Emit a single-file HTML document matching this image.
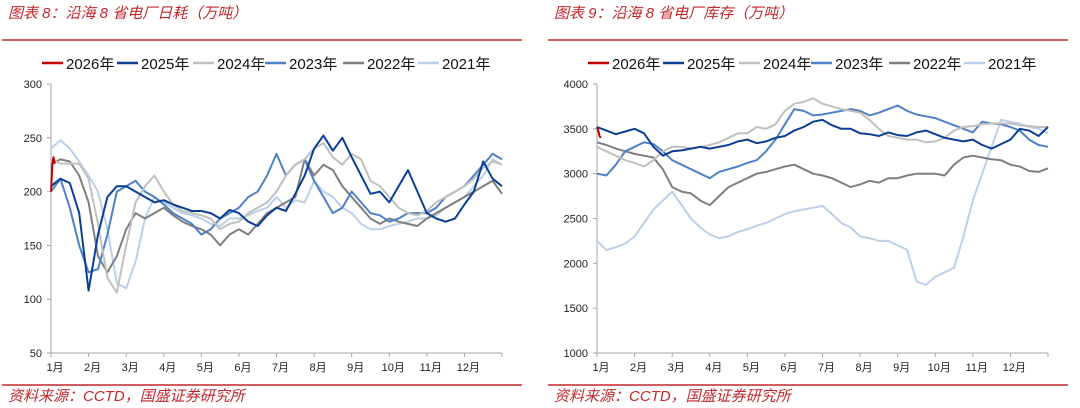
<!DOCTYPE html>
<html><head><meta charset="utf-8">
<style>
body{margin:0;background:#fff;width:1080px;height:408px;overflow:hidden;font-family:"Liberation Sans","Noto Sans CJK SC",sans-serif;}
svg{display:block}
</style></head>
<body>
<svg id="c" width="1080" height="408" xmlns="http://www.w3.org/2000/svg"></svg>
<script>
const months=["1月","2月","3月","4月","5月","6月","7月","8月","9月","10月","11月","12月"];
const years=["2026年","2025年","2024年","2023年","2022年","2021年"];
const colors=["#c00000","#0b3f94","#c0c0c0","#4f81c7","#7f7f7f","#bcd0ea"];
const leftTicks=[50,100,150,200,250,300];
const rightTicks=[1000,1500,2000,2500,3000,3500,4000];
// daily consumption (万吨), quarter-month samples
const cons2026=[200,225,232,226];
const cons2025=[205,212,208,180,108,160,195,205,205,200,195,190,192,188,185,182,182,180,175,183,180,172,168,178,185,182,198,215,240,252,238,250,232,215,198,200,190,205,220,200,180,175,172,175,188,200,228,212,205];
const cons2024=[230,226,226,226,212,170,120,106,150,190,205,215,200,188,182,180,178,175,165,170,172,180,185,190,200,215,225,230,240,245,232,225,235,230,210,205,195,185,180,178,182,190,195,200,205,212,222,228,225];
const cons2023=[200,212,185,150,125,128,160,200,205,210,200,195,188,180,175,170,160,165,175,180,185,195,200,215,235,215,225,230,210,195,180,185,200,190,180,178,172,175,180,180,180,185,195,200,205,215,225,235,230];
const cons2022=[225,230,228,215,190,140,125,140,165,180,175,180,185,178,172,168,165,160,150,160,165,160,170,180,185,190,195,230,215,225,220,205,195,185,175,170,175,172,170,168,175,180,185,190,195,200,205,210,198];
const cons2021=[240,248,240,228,215,200,165,115,110,135,175,195,190,185,180,178,175,170,168,175,175,178,182,185,195,185,192,190,210,200,195,185,180,170,165,165,168,170,172,175,175,178,185,190,195,205,215,230,225];
// inventory (万吨)
const inv2026=[3520,3480,3420,3400];
const inv2025=[3520,3480,3440,3470,3500,3450,3300,3200,3250,3260,3280,3300,3280,3300,3320,3360,3380,3340,3360,3400,3420,3480,3520,3580,3600,3540,3500,3500,3450,3440,3420,3460,3430,3420,3460,3480,3440,3400,3380,3360,3380,3320,3280,3330,3380,3500,3480,3420,3520];
const inv2024=[3300,3250,3200,3150,3120,3080,3150,3250,3300,3300,3280,3300,3320,3350,3400,3450,3450,3520,3500,3550,3700,3780,3800,3840,3780,3750,3720,3700,3680,3600,3500,3420,3400,3380,3380,3350,3360,3400,3480,3520,3530,3550,3560,3560,3560,3540,3530,3520,3520];
const inv2023=[3000,2980,3100,3250,3300,3350,3330,3250,3150,3100,3050,3000,2950,3020,3050,3080,3120,3150,3250,3380,3550,3720,3700,3650,3660,3680,3700,3720,3700,3650,3680,3720,3760,3700,3660,3640,3620,3580,3540,3500,3460,3580,3560,3550,3520,3480,3380,3320,3300];
const inv2022=[3350,3320,3280,3250,3220,3200,3180,3050,2850,2800,2780,2700,2650,2750,2850,2900,2950,3000,3020,3050,3080,3100,3050,3000,2980,2950,2900,2850,2880,2920,2900,2950,2950,2980,3000,3000,3000,2980,3100,3180,3200,3180,3160,3150,3100,3080,3030,3020,3060];
const inv2021=[2250,2150,2180,2220,2300,2450,2600,2700,2800,2650,2500,2400,2320,2280,2300,2350,2380,2420,2450,2500,2550,2580,2600,2620,2640,2550,2450,2400,2300,2280,2250,2250,2200,2150,1800,1760,1850,1900,1950,2300,2700,3000,3300,3600,3580,3560,3520,3500,3450];

const NS="http://www.w3.org/2000/svg";
const svg=document.getElementById('c');
function mk(tag,attrs,parent){const e=document.createElementNS(NS,tag);for(const k in attrs)e.setAttribute(k,attrs[k]);(parent||svg).appendChild(e);return e;}

function panel(ox,title,ticks,ymin,ymax,series,steps,name){
  const g=mk('g',{});
  
  
  const t=mk('text',{x:ox+8,y:18,fill:'#c0282d','font-size':15,'font-style':'italic'},g);
  t.textContent=title;
  
  
  const l1=mk('line',{x1:ox+2,x2:ox+522,y1:40,y2:40,stroke:'#c0282d','stroke-width':1.5},g);
  
  
  const l2=mk('line',{x1:ox+2,x2:ox+522,y1:385,y2:385,stroke:'#c0282d','stroke-width':1.5},g);
  
  
  const s=mk('text',{x:ox+8,y:401,fill:'#c0282d','font-size':15,'font-style':'italic'},g);
  s.textContent='资料来源：CCTD，国盛证券研究所';
  
  
  const x0=ox+51,x1=ox+502,yTop=84,yBot=353;
  const X=m=>x0+(x1-x0)*m/12;
  const Y=v=>yBot-(yBot-yTop)*(v-ymin)/(ymax-ymin);
  const ax=mk('line',{x1:x0,x2:x0,y1:yTop,y2:yBot,stroke:'#a6a6a6'},g);
  
  
  const bx=mk('line',{x1:x0,x2:x1,y1:yBot,y2:yBot,stroke:'#a6a6a6'},g);
  
  
  ticks.forEach(v=>{
    mk('line',{x1:x0-4,x2:x0,y1:Y(v),y2:Y(v),stroke:'#a6a6a6'},g);
    const tl=mk('text',{x:x0-9,y:Y(v)+4,'text-anchor':'end','font-size':11,fill:'#222'},g);
    tl.textContent=v;
    
    
  });
  months.forEach((m,i)=>{
    mk('line',{x1:X(i),x2:X(i),y1:yBot,y2:yBot+4,stroke:'#a6a6a6'},g);
    const ml=mk('text',{x:X(i)+4,y:371,'text-anchor':'middle','font-size':11,fill:'#222'},g);
    ml.textContent=m;
    
    
  });
  mk('line',{x1:x1,x2:x1,y1:yBot,y2:yBot+4,stroke:'#a6a6a6'},g);
  for(let k=series.length-1;k>=0;k--){
    const arr=series[k],st=steps[k];
    const pts=arr.map((v,i)=>X(i*st).toFixed(1)+','+Y(v).toFixed(1)).join(' ');
    const p=mk('polyline',{points:pts,fill:'none',stroke:colors[k],'stroke-width':2,'stroke-linejoin':'round'},g);
    
    
  }
  const lx=[42,117,193,265,343,418];
  years.forEach((y,i)=>{
    const lg=mk('g',{},g);
    
    
    mk('line',{x1:ox+lx[i],x2:ox+lx[i]+21,y1:63,y2:63,stroke:colors[i],'stroke-width':2.5},lg);
    const lt=mk('text',{x:ox+lx[i]+24,y:69,'font-size':15,fill:'#111'},lg);
    lt.textContent=y;
  });
}
const st=[1/30,0.25,0.25,0.25,0.25,0.25];
panel(0,'图表 8：沿海 8 省电厂日耗（万吨）',leftTicks,50,300,[cons2026,cons2025,cons2024,cons2023,cons2022,cons2021],st,'daily-consumption-chart');
panel(546,'图表 9：沿海 8 省电厂库存（万吨）',rightTicks,1000,4000,[inv2026,inv2025,inv2024,inv2023,inv2022,inv2021],st,'inventory-chart');
</script>
</body></html>
